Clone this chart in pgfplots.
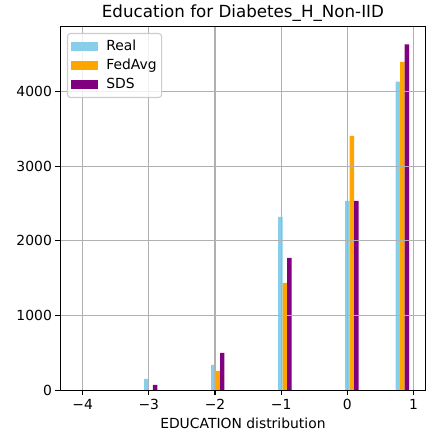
\documentclass[border=0pt]{standalone}
\usepackage{fontspec}
\setmainfont{DejaVu Sans}
\usepackage{pgfplots}
\pgfplotsset{compat=1.18}
\definecolor{cReal}{HTML}{87CEEB}
\definecolor{cFed}{HTML}{FFA500}
\definecolor{cSDS}{HTML}{800080}
\definecolor{cGrid}{HTML}{B0B0B0}
\definecolor{cLeg}{HTML}{CCCCCC}
\begin{document}
\begin{tikzpicture}
\begin{axis}[
  scale only axis,
  width=365.4bp, height=363.6bp,
  xmin=-4.338, xmax=1.181,
  ymin=0, ymax=4871,
  xtick={-4,-3,-2,-1,0,1},
  xticklabels={−4,−3,−2,−1,0,1},
  ytick={0,1000,2000,3000,4000},
  /pgf/number format/assume math mode=true,
  yticklabel style={/pgf/number format/1000 sep={}},
  scaled y ticks=false,
  tick align=outside, tick pos=left,
  major tick length=4.9bp,
  every tick/.style={black, line width=1.1bp},
  axis line style={line width=1.1bp},
  grid=major,
  major grid style={cGrid, line width=1.1bp},
  axis on top,
  ticklabel style={font=\fontsize{13.9bp}{16bp}\selectfont},
  xticklabel style={yshift=-1bp},
  title={Education for Diabetes\_H\_Non-IID},
  title style={font=\fontsize{16.7bp}{20bp}\selectfont, yshift=-4bp},
  xlabel={EDUCATION distribution},
  xlabel style={font=\fontsize{13.9bp}{16bp}\selectfont, yshift=-1bp},
  legend cell align=left,
  legend style={at={(0,1)}, anchor=north west, xshift=6.7bp, yshift=-6.3bp,
    draw=cLeg, line width=1.1bp, rounded corners=3bp, fill=white, fill opacity=0.8, text opacity=1,
    font=\fontsize{13.9bp}{16bp}\selectfont, inner xsep=3bp, inner ysep=5bp, row sep=3bp,
    nodes={inner xsep=2bp, inner ysep=1.5bp, text height=10.5bp, text depth=2.5bp},
    /tikz/every odd column/.style={column sep=6bp}},
  legend image code/.code={\fill[#1, draw=none, fill opacity=1, sharp corners] (0bp,-4.85bp) rectangle (27.8bp,4.85bp);},
]
\addplot[ybar, bar width=0.0676, bar shift=0pt, fill=cReal, draw=none] coordinates {
  (-3.0389,151) (-2.0259,339) (-1.0119,2321) (0.0011,2536) (0.7621,4134)};
\addlegendentry{Real}
\addplot[ybar, bar width=0.0676, bar shift=0pt, fill=cFed, draw=none] coordinates {
  (-1.9583,259) (-0.9443,1437) (0.0687,3407) (0.8297,4398)};
\addlegendentry{FedAvg}
\addplot[ybar, bar width=0.0676, bar shift=0pt, fill=cSDS, draw=none] coordinates {
  (-2.9037,71) (-1.8907,500) (-0.8767,1772) (0.1363,2536) (0.8973,4635)};
\addlegendentry{SDS}
\end{axis}
\path (current axis.south west) ++(-60.3bp,-41.7bp) coordinate (bbA);
\path (current axis.north east) ++(4.3bp,26.7bp) coordinate (bbB);
\useasboundingbox (bbA) rectangle (bbB);
\end{tikzpicture}
\end{document}
